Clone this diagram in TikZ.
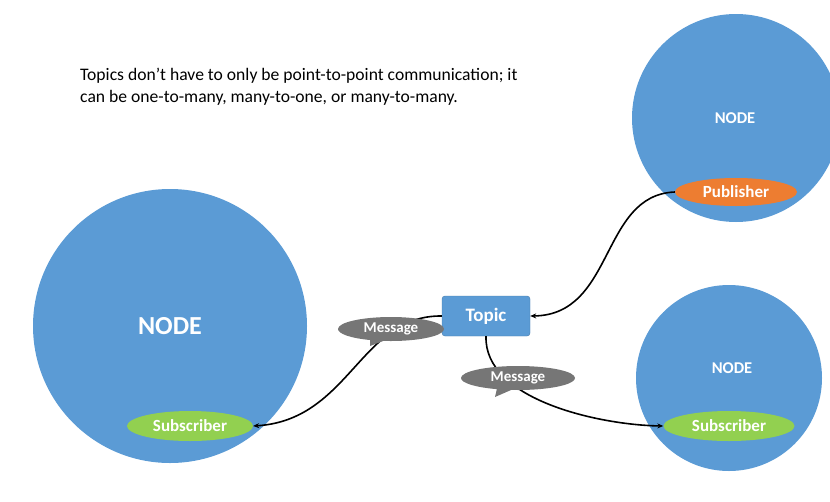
\documentclass[tikz,border=0pt]{standalone}
\usepackage{fontspec}
\setmainfont{Carlito}
\usetikzlibrary{shapes.geometric, shapes.callouts, arrows.meta, positioning}
\definecolor{nodeblue}{RGB}{91,155,213}
\definecolor{puborange}{RGB}{237,125,49}
\definecolor{subgreen}{RGB}{146,208,80}
\definecolor{msggray}{RGB}{118,118,118}

\begin{document}
\begin{tikzpicture}[
        x=1pt, y=-1pt,
        rosnode/.style={circle, fill=nodeblue, inner sep=0pt},
        nodelabel/.style={text=white, font=\fontsize{16.5}{18}\selectfont\bfseries},
        pill/.style={ellipse, inner sep=0pt, text=white, font=\fontsize{17}{19}\selectfont\bfseries},
        msg/.style={ellipse callout, fill=msggray, inner sep=0pt, minimum height=24pt, text=white, font=\fontsize{15}{17}\selectfont\bfseries},
        link/.style={-{Stealth[length=6pt, width=5pt]}, line width=1.6pt, black}
    ]
        \useasboundingbox (0,0) rectangle (830,501);
        \clip (0,0) rectangle (830,501);

        % intro text
        \node[anchor=north west, align=left, inner sep=0pt, font=\fontsize{17.6}{22}\selectfont] (intro) at (80,68)
            {Topics don’t have to only be point-to-point communication; it\\can be one-to-many, many-to-one, or many-to-many.};

        % the three nodes
        \node[rosnode, minimum size=274pt] (leftnode) at (170,326) {};
        \node[nodelabel, font=\fontsize{26}{28}\selectfont\bfseries] (leftlabel) at (170,326) {NODE};
        \node[rosnode, minimum size=208pt] (pubnode) at (736,118) {};
        \node[nodelabel] (publabel) at (735,118) {NODE};
        \node[rosnode, minimum size=186pt] (subnode) at (729,378) {};
        \node[nodelabel] (sublabel) at (732,368) {NODE};

        % publisher and subscribers
        \node[pill, fill=puborange, minimum width=122pt, minimum height=28pt] (pub) at (736,192) {Publisher};
        \node[pill, fill=subgreen, minimum width=126pt, minimum height=30pt] (subleft) at (190,426) {Subscriber};
        \node[pill, fill=subgreen, minimum width=131pt, minimum height=30pt] (subright) at (729,426) {Subscriber};

        % topic
        \node[rectangle, fill=nodeblue, draw=nodeblue!80!black, rounded corners=3pt, minimum width=88pt, minimum height=40pt,
              text=white, font=\fontsize{19}{21}\selectfont\bfseries] (topic) at (486,316) {Topic};

        % connectors
        \draw[link] (pub.west) .. controls (600,195) and (615,315) .. (topic.east);
        \draw[link] (topic.west) .. controls (360,315) and (350,420) .. (subleft.east);
        \draw[link] (topic.south) .. controls (484,400) and (600,425) .. (subright.west);

        % messages
        \node[msg, minimum width=106pt, callout absolute pointer={(370,346)}] (msgleft) at (391,329) {Message};
        \node[msg, minimum width=114pt, callout absolute pointer={(495,397)}] (msgright) at (518,378) {Message};
    \end{tikzpicture}
\end{document}
